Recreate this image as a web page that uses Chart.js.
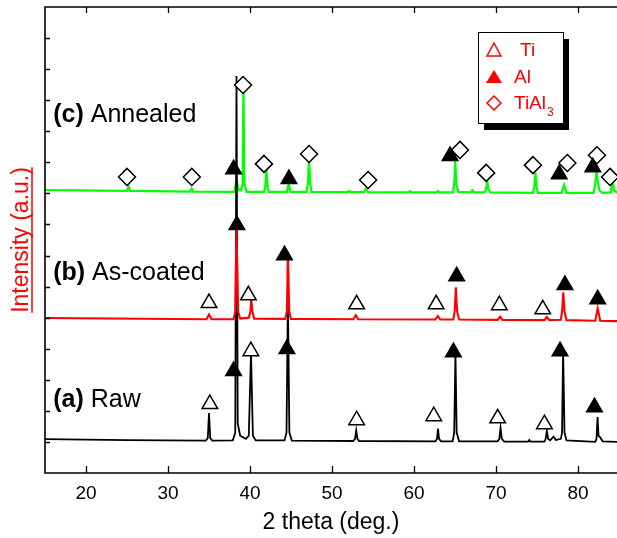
<!DOCTYPE html>
<html>
<head>
<meta charset="utf-8">
<script src="https://cdn.jsdelivr.net/npm/chart.js@4.4.0/dist/chart.umd.min.js"></script>
<style>
  html, body { margin: 0; padding: 0; background: #fff; }
  #wrap { width: 617px; height: 538px; }
</style>
</head>
<body>
<div id="wrap"><canvas id="xrd" width="617" height="538"></canvas></div>
<script>
// traços: [2 theta, intensidade com deslocamento]
const rawTrace = [
    [15, 1.09], [25, 1.06], [34.6, 1.04], [34.85, 1.12], [35.0, 1.93], [35.15, 1.12], [35.4, 1.04],
    [37.9, 1.05], [38.2, 1.3], [38.35, 12.78], [38.5, 1.6], [38.8, 1.2], [39.5, 1.1],
    [39.85, 1.2], [40.12, 3.86], [40.35, 1.2], [40.7, 1.05],
    [44.2, 1.05], [44.45, 1.3], [44.62, 5.6], [44.8, 1.3], [45.1, 1.04],
    [52.6, 1.03], [52.8, 1.1], [52.95, 1.37], [53.1, 1.1], [53.3, 1.03],
    [62.6, 1.02], [62.8, 1.1], [62.92, 1.43], [63.05, 1.1], [63.3, 1.02],
    [64.7, 1.02], [64.9, 1.3], [65.05, 3.86], [65.2, 1.3], [65.5, 1.02],
    [70.2, 1.02], [70.4, 1.1], [70.55, 1.45], [70.7, 1.1], [71.0, 1.01],
    [73.9, 1.01], [74.05, 1.06], [74.2, 1.01],
    [75.9, 1.01], [76.05, 1.1], [76.2, 1.35], [76.35, 1.1], [76.6, 1.05], [77.0, 1.17], [77.3, 1.06],
    [77.9, 1.1], [78.05, 1.3], [78.18, 3.89], [78.35, 1.3], [78.6, 1.05],
    [82.1, 1.0], [82.25, 1.1], [82.38, 1.8], [82.5, 1.2], [82.7, 1.15], [83.0, 1.02], [84.8, 1.0]
];

const coatedTrace = [
    [15, 4.99], [34.7, 4.95], [35.0, 5.1], [35.3, 4.95],
    [38.0, 4.95], [38.2, 5.2], [38.35, 7.9], [38.55, 5.2], [38.8, 4.97],
    [39.85, 5.0], [40.05, 5.2], [40.15, 5.58], [40.3, 5.2], [40.5, 4.97],
    [44.3, 4.96], [44.5, 5.2], [44.62, 7.12], [44.78, 5.2], [45.0, 4.96],
    [52.6, 4.95], [52.9, 5.08], [53.2, 4.95],
    [62.6, 4.94], [62.9, 5.05], [63.2, 4.94],
    [64.8, 4.94], [64.95, 5.2], [65.1, 5.98], [65.25, 5.2], [65.5, 4.94],
    [70.2, 4.93], [70.5, 5.03], [70.8, 4.93],
    [75.9, 4.92], [76.2, 5.02], [76.5, 4.92],
    [77.9, 4.93], [78.05, 5.2], [78.2, 5.82], [78.35, 5.2], [78.6, 4.92],
    [82.1, 4.9], [82.4, 5.3], [82.7, 4.9], [84.8, 4.89]
];

const annealedTrace = [
    [15, 9.11], [25.0, 9.08], [25.2, 9.22], [25.4, 9.08], [32.7, 9.06], [32.9, 9.15], [33.1, 9.06],
    [38.1, 9.05], [38.35, 9.45], [38.6, 9.1], [38.9, 9.1], [39.1, 9.3], [39.2, 12.55], [39.3, 9.3], [39.6, 9.05],
    [41.7, 9.05], [41.85, 9.2], [42.0, 9.76], [42.15, 9.2], [42.3, 9.05],
    [44.5, 9.05], [44.72, 9.3], [44.95, 9.05],
    [46.9, 9.05], [47.05, 9.3], [47.2, 10.07], [47.35, 9.3], [47.5, 9.05],
    [51.9, 9.04], [52.1, 9.08], [52.3, 9.04],
    [53.9, 9.04], [54.15, 9.15], [54.4, 9.04],
    [59.3, 9.03], [59.5, 9.07], [59.7, 9.03],
    [62.7, 9.03], [62.9, 9.08], [63.1, 9.03],
    [64.75, 9.03], [64.9, 9.3], [65.02, 10.07], [65.15, 9.3], [65.4, 9.05],
    [66.9, 9.03], [67.1, 9.1], [67.3, 9.03],
    [68.6, 9.03], [68.8, 9.15], [68.92, 9.43], [69.05, 9.15], [69.3, 9.03],
    [74.5, 9.02], [74.65, 9.2], [74.8, 9.66], [74.95, 9.2], [75.1, 9.02],
    [78.0, 9.02], [78.3, 9.27], [78.6, 9.02],
    [81.9, 9.02], [82.1, 9.3], [82.25, 9.69], [82.4, 9.4], [82.6, 9.1], [83.0, 9.02],
    [84.0, 9.03], [84.2, 9.49], [84.4, 9.1], [84.8, 9.02]
];

// marcadores de fase
const tiMarks = [
    [35.0, 5.47], [39.8, 5.72], [53.0, 5.43], [62.7, 5.43], [70.4, 5.40], [75.7, 5.27],
    [35.1, 2.22], [40.1, 3.92], [53.0, 1.70], [62.4, 1.83], [70.2, 1.76], [75.9, 1.57]
];
const alMarks = [
    [38.0, 9.78], [44.75, 9.46], [64.4, 10.2], [77.7, 9.62], [81.8, 9.84],
    [38.4, 7.98], [44.2, 7.01], [65.2, 6.33], [78.4, 6.05], [82.4, 5.59],
    [38.0, 3.28], [44.5, 3.99], [64.8, 3.89], [77.8, 3.92], [82.0, 2.12]
];
const tial3Marks = [
    [25.0, 9.53], [32.9, 9.53], [39.15, 12.49], [41.7, 9.95], [47.2, 10.27], [54.4, 9.43],
    [65.6, 10.4], [68.8, 9.66], [74.5, 9.91], [78.7, 9.98], [82.3, 10.23], [83.9, 9.53]
];

const xTicks = [20, 30, 40, 50, 60, 70, 80];
const yTicks = [1, 2, 3, 4, 5, 6, 7, 8, 9, 10, 11, 12, 13, 14];

const sampleTags = ["(a)", "(b)", "(c)"];
const sampleNames = ["Raw", "As-coated", "Annealed"];
const legendNames = ["Ti", "Al", "TiAl"];

const FONT = "'Liberation Sans', Arial, Helvetica, sans-serif";

// onde ficam os rótulos das amostras (coordenadas de dados)
const tagX = 16;
const tagY = [2.35, 6.44, 11.52];

const decoracoes = {
    id: "decoracoes",
    afterDraw(chart) {
        const { ctx, chartArea: area, scales } = chart;
        const xs = scales.x, ys = scales.y;
        ctx.save();

        // moldura
        ctx.strokeStyle = "#000";
        ctx.lineWidth = 1.6;
        ctx.beginPath();
        ctx.moveTo(area.right + 2, area.top);
        ctx.lineTo(area.left, area.top);
        ctx.lineTo(area.left, area.bottom);
        ctx.lineTo(area.right + 2, area.bottom);
        ctx.stroke();

        // ticks para dentro
        ctx.lineWidth = 1.3;
        ctx.beginPath();
        xTicks.forEach(v => {
            const px = Math.round(xs.getPixelForValue(v)) + 0.5;
            ctx.moveTo(px, area.bottom);
            ctx.lineTo(px, area.bottom - 7);
            ctx.moveTo(px, area.top);
            ctx.lineTo(px, area.top + 6);
        });
        yTicks.forEach(v => {
            const py = Math.round(ys.getPixelForValue(v)) + 0.5;
            ctx.moveTo(area.left, py);
            ctx.lineTo(area.left + 5, py);
        });
        ctx.stroke();

        // rótulos das amostras
        ctx.fillStyle = "#000";
        ctx.textBaseline = "middle";
        sampleTags.forEach((tag, i) => {
            const px = xs.getPixelForValue(tagX);
            const py = ys.getPixelForValue(tagY[i]);
            ctx.font = "bold 25px " + FONT;
            ctx.fillText(tag, px, py);
            const w = ctx.measureText(tag + " ").width;
            ctx.font = "25px " + FONT;
            ctx.fillText(sampleNames[i], px + w, py);
        });

        // legenda com sombra
        const lx = area.right - 139, ly = area.top + 25, lw = 85, lh = 91;
        ctx.fillStyle = "#000";
        ctx.fillRect(lx + 6, ly + 7, lw, lh);
        ctx.fillStyle = "#fff";
        ctx.fillRect(lx, ly, lw, lh);
        ctx.strokeStyle = "#000";
        ctx.lineWidth = 1;
        ctx.strokeRect(lx + 0.5, ly + 0.5, lw, lh);

        ctx.strokeStyle = "#ff0000";
        ctx.fillStyle = "#ff0000";
        ctx.lineWidth = 1.5;
        const sx = lx + 16;
        const rows = [ly + 18, ly + 45, ly + 71];
        // Ti: triângulo vazado
        ctx.beginPath();
        ctx.moveTo(sx, rows[0] - 7);
        ctx.lineTo(sx + 7, rows[0] + 6);
        ctx.lineTo(sx - 7, rows[0] + 6);
        ctx.closePath();
        ctx.stroke();
        // Al: triângulo cheio
        ctx.beginPath();
        ctx.moveTo(sx, rows[1] - 7);
        ctx.lineTo(sx + 8, rows[1] + 6);
        ctx.lineTo(sx - 8, rows[1] + 6);
        ctx.closePath();
        ctx.fill();
        // TiAl3: losango
        ctx.beginPath();
        ctx.moveTo(sx, rows[2] - 7);
        ctx.lineTo(sx + 7, rows[2]);
        ctx.lineTo(sx, rows[2] + 7);
        ctx.lineTo(sx - 7, rows[2]);
        ctx.closePath();
        ctx.stroke();

        ctx.font = "19px " + FONT;
        ctx.textBaseline = "middle";
        ctx.fillText(legendNames[0], lx + 42, rows[0] + 1);
        ctx.fillText(legendNames[1], lx + 36, rows[1] + 1);
        ctx.fillText(legendNames[2], lx + 36, rows[2] + 1);
        const tw = ctx.measureText(legendNames[2]).width;
        ctx.font = "12px " + FONT;
        ctx.fillText("3", lx + 37 + tw, rows[2] + 10);

        // sublinhado do título do eixo y
        ctx.font = "23px " + FONT;
        const titleW = ctx.measureText(ys.options.title.text).width;
        const cy = (area.top + area.bottom) / 2;
        ctx.strokeStyle = "#ff0000";
        ctx.lineWidth = 1.5;
        ctx.beginPath();
        ctx.moveTo(ys.left + 32, cy - titleW / 2);
        ctx.lineTo(ys.left + 32, cy + titleW / 2);
        ctx.stroke();

        ctx.restore();
    }
};

function marcadores(data, fill) {
    return {
        data: data,
        showLine: false,
        pointStyle: "triangle",
        pointRadius: 9,
        pointBackgroundColor: fill,
        pointBorderColor: "#000",
        pointBorderWidth: 1.5,
        order: 0
    };
}

function traco(data, cor, largura, ordem) {
    return {
        data: data,
        showLine: true,
        borderColor: cor,
        borderWidth: largura,
        pointRadius: 0,
        tension: 0,
        order: ordem
    };
}

const losangos = marcadores(tial3Marks, "#fff");
losangos.pointStyle = "rectRot";
losangos.pointRadius = 8.5;

new Chart(document.getElementById("xrd"), {
    type: "scatter",
    data: {
        datasets: [
            traco(coatedTrace, "#ff0000", 2.1, 1),
            traco(rawTrace, "#000000", 1.8, 2),
            traco(annealedTrace, "#00ff00", 2.2, 3),
            marcadores(tiMarks, "#fff"),
            marcadores(alMarks, "#000"),
            losangos
        ]
    },
    options: {
        responsive: false,
        animation: false,
        events: [],
        layout: { autoPadding: false, padding: { top: 7, right: 0, left: 0, bottom: 0 } },
        plugins: { legend: { display: false }, tooltip: { enabled: false } },
        scales: {
            x: {
                type: "linear",
                min: 15,
                max: 84.75,
                afterFit: scale => {
                    scale.height = 65;
                    scale.paddingLeft = 0;
                    scale.paddingRight = 0;
                },
                afterBuildTicks: scale => { scale.ticks = xTicks.map(v => ({ value: v })); },
                grid: { display: false, drawTicks: false },
                border: { display: false },
                ticks: { color: "#000", padding: 9, font: { family: FONT, size: 19 } },
                title: {
                    display: true,
                    text: "2 theta (deg.)",
                    color: "#000",
                    font: { family: FONT, size: 23 },
                    padding: { top: 0, bottom: 2 }
                }
            },
            y: {
                type: "linear",
                min: 0,
                max: 15,
                afterFit: scale => { scale.width = 45; },
                grid: { display: false, drawTicks: false },
                border: { display: false },
                ticks: { display: false },
                title: {
                    display: true,
                    text: "Intensity (a.u.)",
                    color: "#ff0000",
                    font: { family: FONT, size: 23 },
                    padding: { top: 8, bottom: 0 }
                }
            }
        }
    },
    plugins: [decoracoes]
});
</script>
</body>
</html>
